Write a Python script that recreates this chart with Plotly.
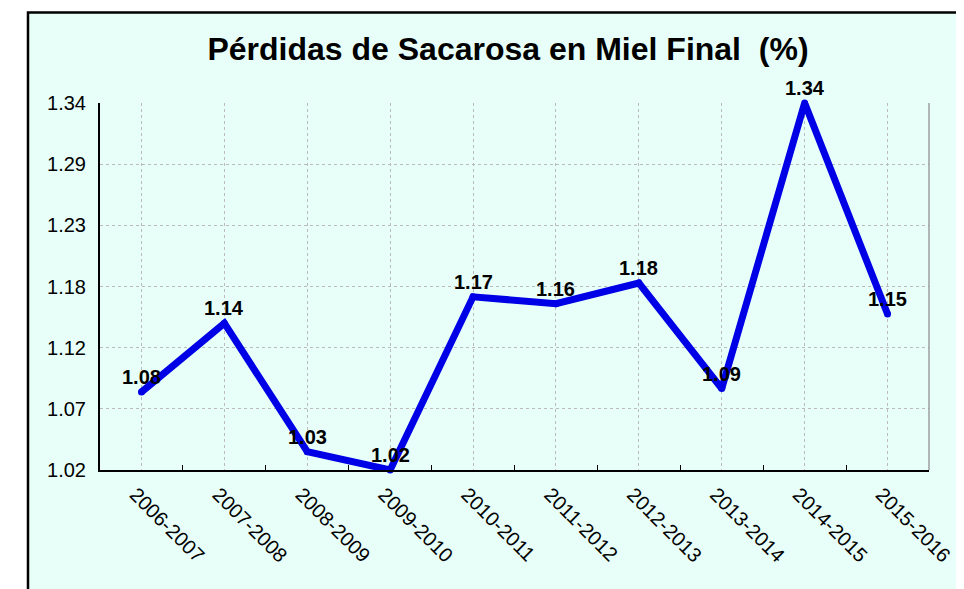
import plotly.graph_objects as go

# ---- data ----
categories = ["2006-2007", "2007-2008", "2008-2009", "2009-2010", "2010-2011",
              "2011-2012", "2012-2013", "2013-2014", "2014-2015", "2015-2016"]
values = [1.088, 1.148, 1.036, 1.020, 1.171, 1.165, 1.183, 1.091, 1.340, 1.156]
value_labels = ["1.08", "1.14", "1.03", "1.02", "1.17", "1.16", "1.18", "1.09", "1.34", "1.15"]
y_tick_values = [1.02, 1.02 + 0.32 / 6, 1.02 + 0.64 / 6, 1.02 + 0.96 / 6,
                 1.02 + 1.28 / 6, 1.02 + 1.60 / 6, 1.34]
y_tick_labels = ["1.02", "1.07", "1.12", "1.18", "1.23", "1.29", "1.34"]
title_text = "Pérdidas de Sacarosa en Miel Final  (%)"

x_pos = list(range(len(categories)))
boundaries = [i + 0.5 for i in range(len(categories) - 1)]

FONT = "Arial, Liberation Sans, sans-serif"
BLUE = "#0000E6"

# page body has an 8px margin, so the figure is sized/placed to compensate
W, H = 956, 581
L, R, T, B = 92, 35, 95, 119
PW = W - L - R
PH = H - T - B

fig = go.Figure()
fig.add_trace(go.Scatter(
    x=x_pos, y=values, mode="lines+markers",
    line=dict(color=BLUE, width=7),
    marker=dict(color=BLUE, size=7),
    cliponaxis=False, hoverinfo="skip", showlegend=False,
))

for xv, yv, lab in zip(x_pos, values, value_labels):
    fig.add_annotation(x=xv, y=yv, text="<b>" + lab + "</b>", showarrow=False,
                       xanchor="center", yanchor="middle", yshift=15,
                       font=dict(family=FONT, size=20, color="black"))

# outer frame (cyan box)
fig.add_shape(type="rect", xref="paper", yref="paper",
              x0=(20 - L) / PW, x1=(1010 - L) / PW,
              y0=(T + PH - 620) / PH, y1=(T + PH - 4.5) / PH,
              fillcolor="#E8FFF9", line=dict(color="black", width=2.5), layer="below")
# right border of plot area
fig.add_shape(type="line", xref="paper", yref="paper", x0=1, x1=1, y0=0, y1=1,
              line=dict(color="#888888", width=1.2))

fig.update_layout(
    width=W, height=H, autosize=False,
    margin=dict(l=L, r=R, t=T, b=B, autoexpand=False),
    paper_bgcolor="white", plot_bgcolor="#F2F2F2",
    font=dict(family=FONT, color="black"),
    title=dict(text="<b>" + title_text + "</b>", x=500 / W, xanchor="center",
               y=1 - 41 / H, yanchor="middle", yref="container", xref="container",
               font=dict(family=FONT, size=32, color="black")),
    xaxis=dict(range=[-0.5, len(categories) - 0.5], tickmode="array",
               tickvals=x_pos, ticktext=categories, tickangle=45,
               tickfont=dict(family=FONT, size=20, color="black"),
               ticks="", showgrid=True, gridcolor="#BBBBBB", griddash="dot", gridwidth=1,
               showline=True, linecolor="black", linewidth=2, zeroline=False,
               ticklabelstandoff=3, ticklabelshift=-6,
               ticklabeloverflow="allow", automargin=False,
               minor=dict(tickmode="array", tickvals=boundaries, ticks="inside",
                          ticklen=5, tickcolor="black", tickwidth=1, showgrid=False)),
    yaxis=dict(range=[1.02, 1.34], tickmode="array", tickvals=y_tick_values,
               ticktext=y_tick_labels, tickfont=dict(family=FONT, size=20, color="black"),
               ticks="", showgrid=True, gridcolor="#BBBBBB", griddash="dot", gridwidth=1,
               showline=True, linecolor="black", linewidth=2, zeroline=False,
               ticklabelstandoff=8, automargin=False),
)

fig.write_html("out.html")
